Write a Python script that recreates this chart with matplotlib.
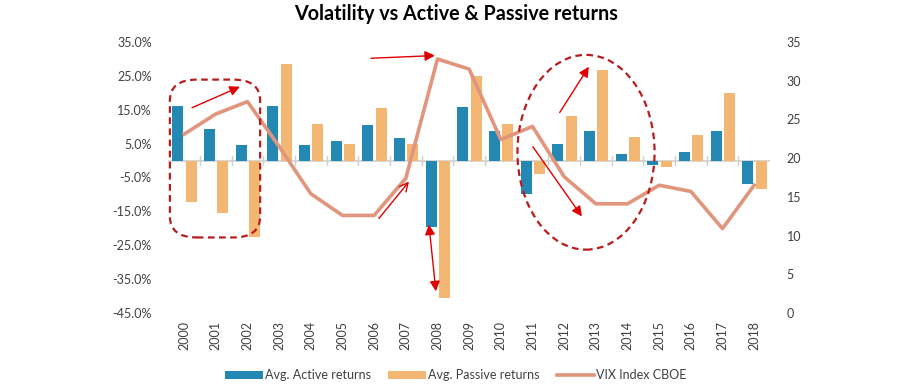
import matplotlib
matplotlib.use("Agg")
import matplotlib.pyplot as plt
import numpy as np
from matplotlib.patches import FancyBboxPatch, Ellipse

years = [str(y) for y in range(2000, 2019)]
active = [16.2, 9.4, 4.7, 16.2, 4.7, 5.9, 10.6, 6.8, -19.7, 15.9, 8.6, -9.9,
          5.0, 8.8, 1.8, -1.4, 2.4, 8.6, -7.0]
passive = [-12.3, -15.5, -22.5, 28.6, 10.9, 5.0, 15.6, 5.0, -40.6, 25.1, 10.9, -4.0,
           13.3, 26.8, 7.1, -2.0, 7.4, 19.8, -8.5]
vix = [23.1, 25.7, 27.3, 21.5, 15.4, 12.6, 12.6, 17.4, 32.8, 31.5, 22.4, 24.1,
       17.6, 14.1, 14.1, 16.5, 15.7, 10.9, 16.5]
left_ticks = [-45, -35, -25, -15, -5, 5, 15, 25, 35]
right_ticks = [0, 5, 10, 15, 20, 25, 30, 35]

C_ACT = "#2389B3"
C_PAS = "#F4B673"
C_VIX = "#E0957C"
C_RED = "#E00000"
C_DARK = "#B81C1C"
TXT = "#404040"

plt.rcParams['font.family'] = ['Lato', 'DejaVu Sans']

fig = plt.figure(figsize=(9.12, 3.85), dpi=100)
ax = fig.add_axes([168.3 / 912, 1 - 313 / 385, (770 - 168.3) / 912, (313 - 42) / 385])
ax2 = ax.twinx()

x = np.arange(len(years))
w = 0.35
b1 = ax.bar(x - 0.2, active, width=w, color=C_ACT, zorder=2, label="Avg. Active returns")
b2 = ax.bar(x + 0.22, passive, width=w, color=C_PAS, zorder=2, label="Avg. Passive returns")
ax.axhline(0, color="#D0D0D0", lw=1.2, zorder=1)
for b in np.arange(0.5, len(years) - 1, 1.0):
    ax.plot([b, b], [-1.2, 1.2], color="#D0D0D0", lw=1, zorder=1)

ax.set_xlim(-0.5, len(years) - 0.5)
ax.set_ylim(-45, 35)
ax.set_yticks(left_ticks)
ax.set_yticklabels([f"{t:.1f}%" for t in left_ticks])
ax.set_xticks(x)
ax.set_xticklabels(years, rotation=90)
ax.tick_params(axis='both', length=0, labelsize=9, colors=TXT)
ax.tick_params(axis='y', pad=12)
ax.tick_params(axis='x', pad=6)
for s in ax.spines.values():
    s.set_visible(False)

l1, = ax2.plot(x, vix, color=C_VIX, lw=2.6, zorder=3, label="VIX Index CBOE")
ax2.set_ylim(0, 35)
ax2.set_yticks(right_ticks)
ax2.tick_params(axis='y', length=0, labelsize=9, colors=TXT, pad=12)
for s in ax2.spines.values():
    s.set_visible(False)

ann_ax = ax2
def dy(v):  # convert left-axis % to right-axis units
    return (v + 45) / 80 * 35

rect = FancyBboxPatch((-0.45, dy(-22.7)), 2.85, dy(23.9) - dy(-22.7),
                      boxstyle="round,pad=0,rounding_size=0.85",
                      fill=False, ec=C_DARK, lw=1.6, ls=(0, (3, 2)), zorder=5,
                      mutation_aspect=3.2)
ann_ax.add_patch(rect)
ell = Ellipse((12.69, dy(2.45)), 4.33, dy(57.5) - dy(0), fill=False, ec=C_DARK,
              lw=1.6, ls=(0, (3, 2)), zorder=5)
ann_ax.add_patch(ell)

arrows = [((0.25, 15.6), (1.76, 21.8), "-|>"),
          ((5.9, 30.2), (7.92, 31.0), "-|>"),
          ((6.15, -17.1), (7.1, -6.2), "->"),
          ((7.73, -18.9), (7.95, -38.6), "<|-|>"),
          ((11.86, 14.2), (12.78, 27.7), "-|>"),
          ((11.01, 4.1), (12.56, -16.5), "-|>")]
for (x0, y0), (x1, y1), st in arrows:
    ann_ax.annotate("", xy=(x1, dy(y1)), xytext=(x0, dy(y0)),
                    arrowprops=dict(arrowstyle=st + ",head_length=0.6,head_width=0.3",
                                    color=C_RED, lw=1.0, shrinkA=0, shrinkB=0),
                    zorder=6)

fig.text(0.5, 1 - 14 / 385, "Volatility vs Active & Passive returns", ha="center",
         va="center", fontsize=14.2, fontweight="bold", color="black")

fig.legend(handles=[b1, b2, l1], loc="center", bbox_to_anchor=(0.5, 1 - 375 / 385),
           ncol=3, frameon=False, fontsize=9, handlelength=3.0, handleheight=0.6,
           columnspacing=1.4, handletextpad=0.15, labelcolor=TXT)

fig.savefig("out.png", dpi=100, facecolor="white")
